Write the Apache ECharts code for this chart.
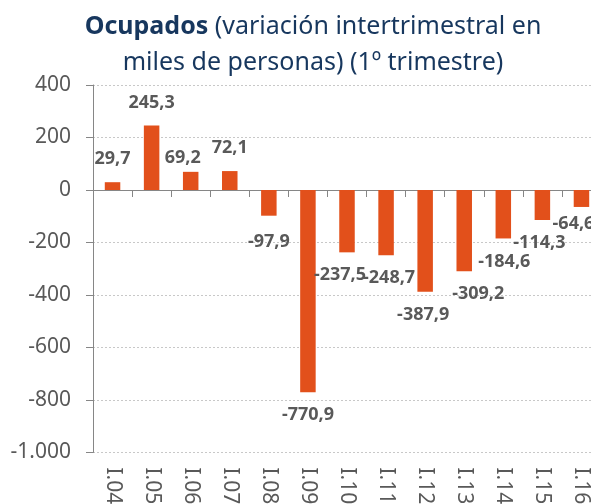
<!DOCTYPE html>
<html>
<head>
<meta charset="utf-8">
<script src="https://cdn.jsdelivr.net/npm/echarts@6/dist/echarts.min.js"></script>
<style>
  html, body { margin: 0; padding: 0; background: #fff; }
  #main { width: 591px; height: 504px; }
</style>
</head>
<body>
<div id="main"></div>
<script>
let categories = ['I.04', 'I.05', 'I.06', 'I.07', 'I.08', 'I.09', 'I.10', 'I.11', 'I.12', 'I.13', 'I.14', 'I.15', 'I.16'];
let ocupados = [29.7, 245.3, 69.2, 72.1, -97.9, -770.9, -237.5, -248.7, -387.9, -309.2, -184.6, -114.3, -64.6];
let yTicks = [-1000, -800, -600, -400, -200, 0, 200, 400];

// label nudges, like the hand-moved labels in the original
let labelShift = [[0, 0], [0, 0], [-8, 9], [0, 0], [0, 3], [0, 0], [-7, 0], [3, 0], [-2, 0], [14, 0], [1, 0], [-3, 0], [-8, -6]];

let grey = '#595959';

function fmtNum(v) {
  let s = Math.abs(v).toString().replace(/(\d)(?=(\d{3})+$)/g, '$1.');
  return (v < 0 ? '-' : '') + s;
}

let myChart = echarts.init(document.getElementById('main'));

let barData = ocupados.map(function (v, i) {
  return {
    value: v,
    label: {
      position: v >= 0 ? 'top' : 'bottom',
      offset: labelShift[i]
    }
  };
});

let option = {
  animation: false,
  title: {
    text: '{b|Ocupados} (variación intertrimestral en\nmiles de personas) (1º trimestre)',
    left: 308,
    top: 4,
    textAlign: 'center',
    textStyle: {
      fontFamily: 'Noto Sans',
      fontSize: 25,
      fontWeight: 'normal',
      color: '#17375e',
      lineHeight: 36,
      rich: {
        b: { fontFamily: 'Noto Sans', fontSize: 25, fontWeight: 'bold', color: '#17375e', lineHeight: 36 }
      }
    }
  },
  grid: {
    left: 93,
    right: -10,
    top: 85,
    bottom: 51.5,
    containLabel: false,
    outerBoundsMode: 'none'
  },
  xAxis: [
    {
      type: 'category',
      data: categories,
      position: 'bottom',
      axisLine: { show: false, onZero: false },
      axisTick: { show: false },
      axisLabel: {
        rotate: -90,
        margin: 15,
        interval: 0,
        color: grey,
        fontFamily: 'Noto Sans',
        fontSize: 21
      }
    },
    {
      type: 'category',
      data: categories,
      position: 'top',
      axisLine: { show: true, onZero: true, lineStyle: { color: '#868686', width: 1 } },
      axisTick: { show: true, inside: true, length: 7, lineStyle: { color: '#868686' } },
      axisLabel: { show: false },
      splitLine: { show: false }
    }
  ],
  yAxis: {
    type: 'value',
    min: yTicks[0],
    max: yTicks[yTicks.length - 1],
    interval: 200,
    axisLine: { show: true, lineStyle: { color: '#868686' } },
    axisTick: { show: true, length: 7, lineStyle: { color: '#868686' } },
    axisLabel: {
      margin: 22,
      color: grey,
      fontFamily: 'Noto Sans',
      fontSize: 21,
      formatter: function (v) { return fmtNum(v); }
    },
    splitLine: { show: true, lineStyle: { color: '#c8c8c8', type: [2, 2] } }
  },
  series: [
    {
      name: 'Ocupados',
      type: 'bar',
      xAxisIndex: 0,
      barWidth: 15.5,
      itemStyle: { color: '#e2501b' },
      label: {
        show: true,
        distance: 14,
        color: grey,
        fontFamily: 'Noto Sans',
        fontWeight: 'bold',
        fontSize: 18,
        formatter: function (p) { return p.value.toFixed(1).replace('.', ','); }
      },
      data: barData
    }
  ]
};

myChart.setOption(option);
</script>
</body>
</html>
